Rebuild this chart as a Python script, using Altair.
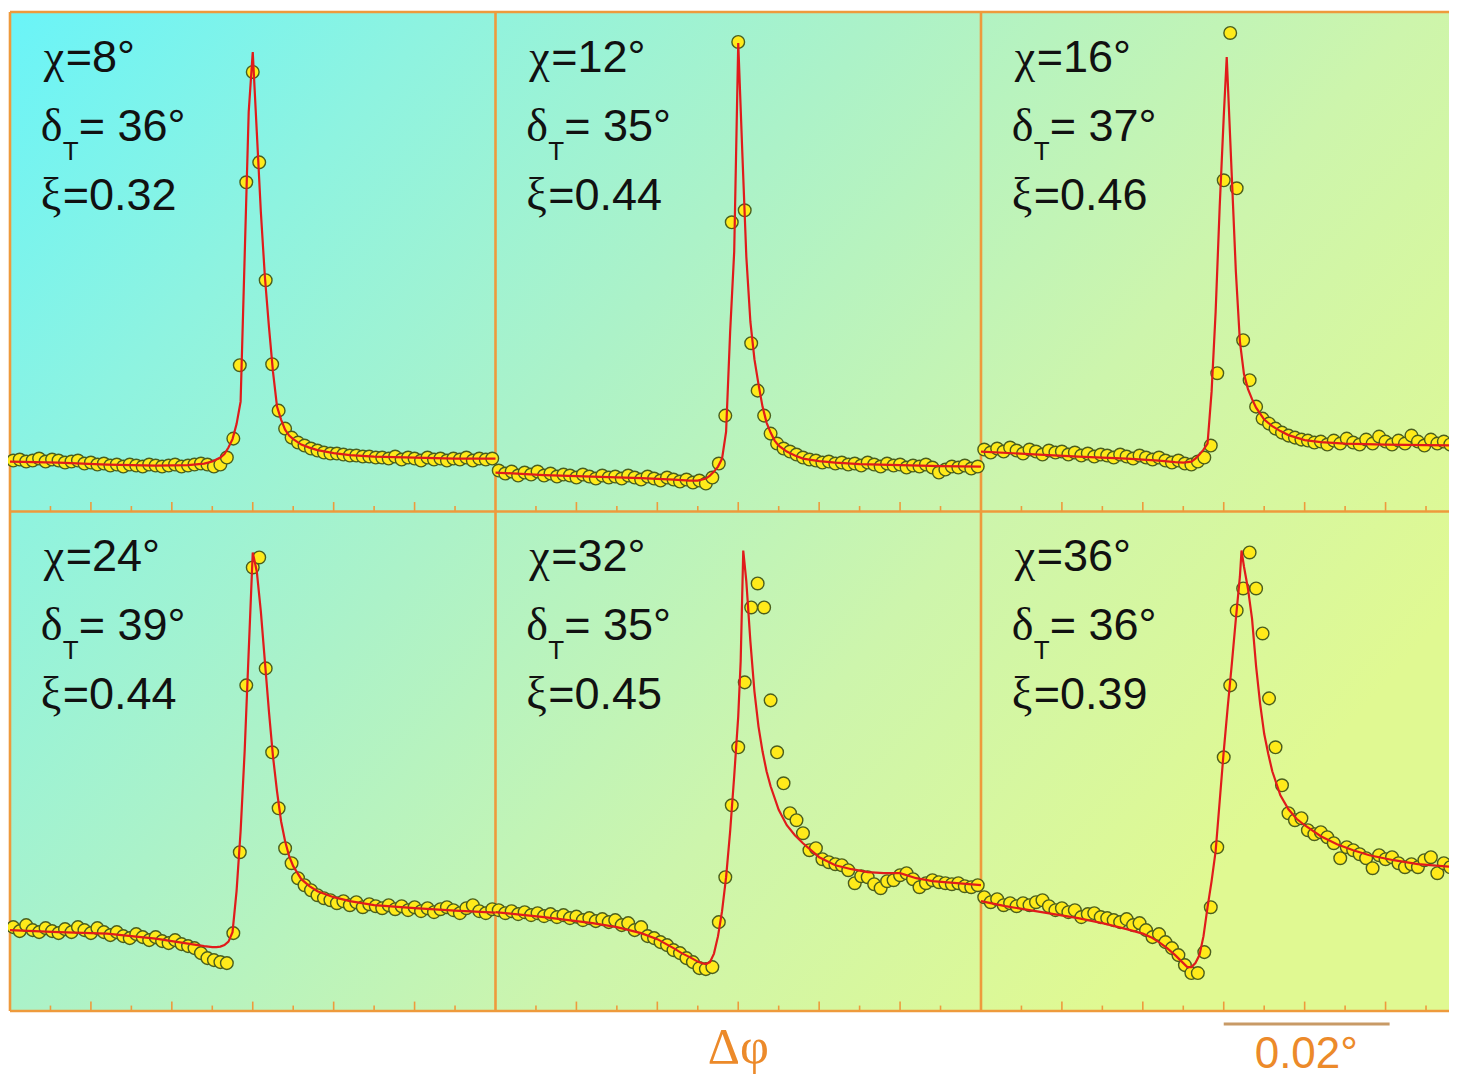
import altair as alt
import pandas as pd

# ---------------- data ----------------
# scan grid, delta-phi in millidegrees (0.001 deg), same for every panel
dphi = [-29.6, -28.8, -28.0, -27.2, -26.4, -25.6, -24.8, -24.0, -23.2, -22.4,
        -21.6, -20.8, -20.0, -19.2, -18.4, -17.6, -16.8, -16.0, -15.2, -14.4,
        -13.6, -12.8, -12.0, -11.2, -10.4, -9.6, -8.8, -8.0, -7.2, -6.4,
        -5.6, -4.8, -4.0, -3.2, -2.4, -1.6, -0.8, 0.0, 0.8, 1.6,
        2.4, 3.2, 4.0, 4.8, 5.6, 6.4, 7.2, 8.0, 8.8, 9.6,
        10.4, 11.2, 12.0, 12.8, 13.6, 14.4, 15.2, 16.0, 16.8, 17.6,
        18.4, 19.2, 20.0, 20.8, 21.6, 22.4, 23.2, 24.0, 24.8, 25.6,
        26.4, 27.2, 28.0, 28.8, 29.6]

chi_values = ["8°", "12°", "16°", "24°", "32°", "36°"]
delta_T = ["36°", "35°", "37°", "39°", "35°", "36°"]
xi_values = ["0.32", "0.44", "0.46", "0.44", "0.45", "0.39"]
panel_row = [0, 0, 0, 1, 1, 1]
panel_col = [0, 1, 2, 0, 1, 2]

# measured intensity (relative, % of panel height)
I_chi8 = [10.2, 10.4, 10.0, 10.2, 10.6, 10.0, 10.4, 10.2, 9.8, 10.0,
          10.2, 9.6, 9.8, 9.4, 9.6, 9.2, 9.4, 9.0, 9.4, 9.2,
          9.0, 9.4, 9.2, 9.0, 9.2, 9.4, 9.0, 9.2, 9.4, 9.6,
          9.4, 9.0, 9.4, 10.8, 14.6, 29.3, 65.9, 88.0, 69.9, 46.3,
          29.5, 20.2, 16.6, 14.8, 13.8, 13.2, 12.6, 12.2, 11.8, 11.6,
          11.6, 11.4, 11.2, 11.2, 11.0, 11.0, 10.8, 10.8, 10.6, 11.0,
          10.4, 10.8, 10.6, 10.2, 10.8, 10.4, 10.6, 10.2, 10.6, 10.4,
          10.8, 10.2, 10.6, 10.4, 10.6]
I_chi12 = [8.2, 7.6, 8.0, 7.2, 7.8, 7.4, 8.0, 7.2, 7.6, 7.0,
           7.4, 7.2, 6.8, 7.4, 7.0, 6.6, 7.2, 6.8, 7.0, 6.6,
           7.2, 6.8, 6.4, 7.0, 6.6, 6.2, 6.8, 6.4, 6.0, 6.4,
           5.8, 6.2, 5.6, 6.8, 9.6, 19.2, 57.9, 94.0, 60.3, 33.7,
           24.2, 19.2, 15.6, 13.6, 12.6, 12.0, 11.4, 10.8, 10.4, 10.2,
           9.8, 10.0, 9.6, 9.8, 9.4, 9.6, 9.2, 9.8, 9.4, 9.0,
           9.6, 9.2, 9.4, 8.8, 9.2, 9.0, 9.4, 8.8, 7.8, 8.4,
           9.0, 8.8, 9.2, 8.6, 9.0]
I_chi16 = [12.4, 11.8, 12.6, 12.0, 12.8, 12.2, 11.6, 12.4, 12.0, 11.4,
           12.2, 11.8, 12.0, 11.4, 11.8, 11.2, 11.6, 11.0, 11.4, 11.2,
           10.8, 11.4, 11.0, 10.6, 11.2, 10.8, 10.4, 10.8, 10.2, 9.8,
           10.2, 9.6, 9.4, 10.0, 10.8, 13.2, 27.7, 66.3, 95.8, 64.7,
           34.3, 26.3, 21.0, 18.6, 17.6, 16.6, 15.8, 15.2, 14.8, 14.4,
           14.2, 13.8, 14.0, 13.4, 14.2, 13.6, 14.6, 13.8, 13.4, 14.4,
           13.6, 15.0, 14.0, 13.4, 14.2, 13.6, 15.2, 14.0, 13.2, 14.4,
           13.6, 14.0, 13.4, 13.8, 13.2]
I_chi24 = [16.8, 16.0, 17.2, 16.2, 15.8, 16.6, 16.0, 15.6, 16.4, 15.8,
           16.8, 16.2, 15.6, 16.6, 15.8, 15.2, 15.8, 15.0, 14.6, 15.4,
           14.8, 14.2, 14.8, 14.0, 13.6, 14.2, 13.4, 13.0, 12.6, 11.6,
           10.6, 10.2, 9.8, 9.6, 15.6, 31.8, 65.2, 88.8, 90.8, 68.6,
           51.8, 40.6, 32.6, 29.6, 26.6, 25.2, 24.2, 23.2, 22.6, 22.2,
           21.6, 22.0, 21.2, 21.8, 20.8, 21.4, 21.0, 20.6, 21.2, 20.4,
           21.0, 20.2, 20.8, 20.0, 20.6, 19.8, 20.4, 20.8, 20.2, 19.6,
           20.6, 21.2, 20.0, 19.6, 20.4]
I_chi32 = [20.2, 19.6, 20.0, 19.4, 19.8, 19.2, 19.6, 19.0, 19.4, 18.8,
           19.2, 18.6, 18.9, 18.2, 18.6, 18.0, 18.4, 17.8, 18.2, 17.2,
           17.6, 16.2, 16.8, 15.0, 14.6, 13.8, 13.2, 12.2, 11.6, 10.6,
           9.8, 8.6, 8.4, 8.8, 17.8, 26.8, 41.2, 52.8, 65.8, 80.8,
           85.6, 80.8, 62.2, 51.8, 45.6, 39.6, 38.2, 35.6, 32.2, 32.6,
           30.4, 29.8, 29.4, 29.2, 28.2, 25.6, 27.0, 26.8, 25.4, 24.6,
           26.0, 26.2, 27.2, 27.6, 26.4, 24.8, 25.6, 26.2, 25.8, 25.6,
           25.4, 25.6, 25.0, 24.8, 25.2]
I_chi36 = [22.8, 21.8, 22.4, 21.2, 21.6, 21.0, 21.6, 21.2, 21.8, 22.2,
           21.0, 20.2, 20.6, 19.8, 20.2, 18.8, 19.4, 19.6, 18.8, 18.6,
           18.2, 17.8, 18.4, 17.2, 17.6, 16.2, 14.8, 15.4, 13.8, 12.6,
           11.2, 9.2, 7.6, 7.6, 11.8, 20.8, 32.8, 50.8, 65.2, 80.2,
           84.6, 91.8, 84.6, 75.6, 62.6, 52.8, 45.2, 39.6, 38.2, 38.6,
           36.2, 35.4, 35.8, 34.8, 33.6, 30.6, 32.8, 32.2, 31.4, 30.6,
           28.6, 31.2, 30.4, 30.8, 29.6, 28.8, 29.4, 28.8, 30.2, 30.8,
           27.6, 29.6, 28.8, 29.2, 28.6]
intensities = [I_chi8, I_chi12, I_chi16, I_chi24, I_chi32, I_chi36]

# fitted curves (red lines), delta-phi in mdeg and intensity in %
fit_chi8_x = [-30, -24, -18, -12, -8, -6, -5, -4, -3.5, -3, -2.5, -2, -1.5, -1, -0.5, 0,
              0.5, 1, 1.5, 2, 2.5, 3, 3.5, 4, 4.5, 5, 6, 7, 8, 10, 12, 15, 20, 25, 30]
fit_chi8_y = [10.0, 9.8, 9.4, 9.2, 9.3, 9.6, 10.0, 10.8, 11.5, 12.8, 14.5, 17.5, 22, 51, 80, 92,
              76, 60, 47, 37, 28, 21, 18.4, 16.4, 15.2, 14.5, 13.4, 12.8, 12.3, 11.7, 11.3,
              11.0, 10.8, 10.6, 10.6]
fit_chi12_x = [-30, -24, -18, -12, -8, -6, -5, -4, -3.5, -3, -2.5, -2, -1.5, -1, -0.5, 0,
               0.5, 1, 1.5, 2, 2.5, 3, 3.5, 4, 4.5, 5, 6, 7, 8, 10, 12, 15, 20, 25, 30]
fit_chi12_y = [7.8, 7.3, 7.0, 6.7, 6.4, 6.2, 6.2, 6.6, 7.2, 8.0, 9.0, 10.6, 16, 36, 52, 93.8,
               72, 51, 38, 30.5, 25.5, 21, 17.8, 15.8, 14.2, 13.2, 12.0, 11.2, 10.6, 10.1,
               9.8, 9.5, 9.3, 9.1, 9.0]
fit_chi16_x = [-30, -24, -18, -12, -8, -6, -5, -4, -3.5, -3, -2.5, -2, -1.5, -1, -0.5, 0,
               0.37, 1, 1.5, 2, 2.5, 3, 3.5, 4, 4.5, 5, 6, 7, 8, 10, 12, 15, 20, 25, 30]
fit_chi16_y = [12.0, 11.5, 11.0, 10.6, 10.2, 9.9, 9.8, 10.0, 10.6, 11.4, 12.4, 13.6, 24, 40,
               61, 79, 91, 67, 48, 34, 27.5, 24.5, 22.5, 20.8, 19.6, 18.4, 17.1, 16.1, 15.3,
               14.3, 13.9, 13.6, 13.4, 13.3, 13.2]
fit_chi24_x = [-30, -24, -18, -12, -8, -6, -5, -4.5, -4, -3.5, -3, -2.5, -2, -1.5, -1, -0.5,
               0, 0.5, 1, 1.5, 2, 2.5, 3, 3.5, 4, 4.5, 5, 6, 7, 8, 10, 12, 15, 20, 25, 30]
fit_chi24_y = [16.2, 15.8, 15.5, 14.5, 13.5, 13.0, 12.8, 12.8, 12.9, 13.2, 13.9, 15.8, 24, 36,
               52, 72, 91.8, 88, 80, 70, 60, 51, 44, 38, 34, 31, 29, 26.4, 25, 24, 22.8,
               22.0, 21.2, 20.6, 20.1, 19.7]
fit_chi32_x = [-30, -24, -18, -15, -12, -10, -8, -7, -6, -5, -4.5, -4, -3.5, -3, -2.5, -2,
               -1.5, -1, -0.5, 0, 0.3, 0.62, 1, 1.5, 2, 2.5, 3, 3.5, 4, 5, 6, 7, 8, 10, 12,
               14, 16, 18, 20, 22, 24, 27, 30]
fit_chi32_y = [19.8, 18.8, 17.6, 16.8, 15.6, 14.4, 12.6, 11.6, 10.8, 9.9, 9.6, 9.4, 9.8,
               11.5, 15, 20, 26.8, 36, 47, 59, 70, 92.2, 86, 74, 64, 57, 52, 48, 45, 40.3,
               37.2, 35.2, 33.6, 30.8, 29.2, 28.4, 27.8, 27.6, 27.6, 26.6, 26.0, 25.6, 25.2]
fit_chi36_x = [-30, -27, -24, -21, -18, -15, -12, -10, -9, -8, -7, -6, -5.5, -5, -4.5, -4,
               -3.5, -3, -2.5, -2, -1.5, -1, -0.5, 0, 0.5, 1, 1.5, 2, 2.2, 2.5, 3, 3.5, 4,
               4.5, 5, 5.5, 6, 7, 8, 9, 10, 12, 14, 16, 18, 21, 24, 27, 30]
fit_chi36_y = [22.0, 21.0, 20.2, 19.4, 18.6, 17.6, 16.4, 15.5, 14.8, 13.8, 12.6, 11.2, 10.4,
               9.6, 8.8, 8.8, 9.6, 11.2, 15.0, 20.8, 26, 32, 42, 52, 61, 69.5, 78.5, 87,
               92.2, 89, 84.5, 78.5, 69, 61.5, 55.5, 51.5, 48, 43.2, 40.4, 38.5, 37.2, 35,
               33.4, 32.2, 31.2, 30.2, 29.4, 29.0, 28.7]
fits = [(fit_chi8_x, fit_chi8_y), (fit_chi12_x, fit_chi12_y), (fit_chi16_x, fit_chi16_y),
        (fit_chi24_x, fit_chi24_y), (fit_chi32_x, fit_chi32_y), (fit_chi36_x, fit_chi36_y)]

# tick marks of the delta-phi axis (mdeg, relative to each panel centre)
tick_major = [-20, -10, 0, 10, 20]
tick_minor = [-25, -15, -5, 5, 15, 25]

# ---------------- tables ----------------
PANEL_W = 60.0  # mdeg per panel
XMAX = 147.84   # right end of the visible area (third column is cut off)
pts, fit_rows, labels = [], [], []
for k in range(6):
    r, c = panel_row[k], panel_col[k]
    for x, v in zip(dphi, intensities[k]):
        pts.append({"panel": k, "x": x + PANEL_W * c, "y": v / 100.0 + (1 - r)})
    fx, fy = fits[k]
    for j, (x, v) in enumerate(zip(fx, fy)):
        fit_rows.append({"panel": k, "o": j, "x": x + PANEL_W * c, "y": v / 100.0 + (1 - r)})
    top = 2 - r
    left = -30 + PANEL_W * c + 3.8
    labels.append({"x": left, "y1": top - 0.12, "y2": top - 0.258, "y3": top - 0.396,
                   "chi": "χ", "chi_rest": "=" + chi_values[k],
                   "delta": "δ", "sub": "T", "dval": "= " + delta_T[k],
                   "xi": "ξ", "xi_rest": "=" + xi_values[k]})
pts_df = pd.DataFrame(pts)
fit_df = pd.DataFrame(fit_rows)
lab_df = pd.DataFrame(labels)

ticks = []
for r in range(2):
    base = 1 - r
    for c in range(3):
        for t in tick_major:
            ticks.append({"x": t + PANEL_W * c, "y0": base, "y1": base + 0.019})
        for t in tick_minor:
            ticks.append({"x": t + PANEL_W * c, "y0": base, "y1": base + 0.011})
ticks_df = pd.DataFrame(ticks)

vlines_df = pd.DataFrame({"x": [-30, 30, 90], "y0": [0, 0, 0], "y1": [2, 2, 2]})
hlines_df = pd.DataFrame({"y": [0, 1, 2], "x0": [-30, -30, -30], "x1": [XMAX, XMAX, XMAX]})
bg_df = pd.DataFrame({"x0": [-30], "x1": [XMAX], "y0": [0], "y1": [2]})
bar_df = pd.DataFrame({"x0": [120], "x1": [140.5], "y": [-0.026]})
bottom_df = pd.DataFrame({"x": [60, 130.2], "y": [-0.104, -0.114], "t": ["Δφ", "0.02°"]})

# ---------------- chart ----------------
XS = alt.Scale(domain=[-30, XMAX], nice=False, zero=False)
YS = alt.Scale(domain=[-0.13, 2.0], nice=False, zero=False)
ORANGE = "#EE9A3C"


def xq(f):
    return alt.X(f, scale=XS, axis=None)


def yq(f):
    return alt.Y(f, scale=YS, axis=None)


bg = alt.Chart(bg_df).mark_rect(
    fill=alt.Gradient(
        gradient="linear",
        stops=[alt.GradientStop(color="#6AF4F8", offset=0),
               alt.GradientStop(color="#8EF3E0", offset=0.22),
               alt.GradientStop(color="#ACF2C8", offset=0.45),
               alt.GradientStop(color="#CDF5AC", offset=0.72),
               alt.GradientStop(color="#E0F992", offset=1)],
        x1=0, y1=0, x2=1, y2=0.6),
    stroke=None,
).encode(x=xq("x0:Q"), x2="x1:Q", y=yq("y0:Q"), y2="y1:Q")

vlines = alt.Chart(vlines_df).mark_rule(color=ORANGE, strokeWidth=2.6).encode(
    x=xq("x:Q"), y=yq("y0:Q"), y2="y1:Q")
hlines = alt.Chart(hlines_df).mark_rule(color=ORANGE, strokeWidth=2.6).encode(
    x=xq("x0:Q"), x2="x1:Q", y=yq("y:Q"))
tick_layer = alt.Chart(ticks_df).mark_rule(color=ORANGE, strokeWidth=1.6).encode(
    x=xq("x:Q"), y=yq("y0:Q"), y2="y1:Q")

points = alt.Chart(pts_df).mark_point(
    shape="circle", filled=True, fill="#FFEA1A", stroke="#4A5E1E", strokeWidth=1.4,
    size=160, opacity=1,
).encode(x=xq("x:Q"), y=yq("y:Q"), detail="panel:N")

lines = alt.Chart(fit_df).mark_line(color="#E01B1B", strokeWidth=2.2).encode(
    x=xq("x:Q"), y=yq("y:Q"), detail="panel:N", order="o:Q")

SANS = "Liberation Sans"
SERIF = "Liberation Serif"
INK = "#111111"
base_txt = alt.Chart(lab_df)


def label(field, yfield, font, size, dx=0, dy=0):
    return base_txt.mark_text(align="left", baseline="alphabetic", font=font,
                              fontSize=size, color=INK, dx=dx, dy=dy).encode(
        x=xq("x:Q"), y=yq(yfield), text=f"{field}:N")


t_chi = label("chi", "y1:Q", SERIF, 46, dx=3)
t_chi_rest = label("chi_rest", "y1:Q", SANS, 45, dx=25)
t_delta = label("delta", "y2:Q", SERIF, 46)
t_sub = label("sub", "y2:Q", SANS, 26, dx=22, dy=19)
t_dval = label("dval", "y2:Q", SANS, 45, dx=38)
t_xi = label("xi", "y3:Q", SERIF, 46)
t_xi_rest = label("xi_rest", "y3:Q", SANS, 45, dx=22)

bar = alt.Chart(bar_df).mark_rule(color="#C89A66", strokeWidth=3).encode(
    x=xq("x0:Q"), x2="x1:Q", y=yq("y:Q"))
bottom_dphi = alt.Chart(bottom_df.iloc[[0]]).mark_text(
    align="center", baseline="alphabetic", font=SERIF, fontSize=50,
    color="#EC8A2A").encode(x=xq("x:Q"), y=yq("y:Q"), text="t:N")
bottom_bar = alt.Chart(bottom_df.iloc[[1]]).mark_text(
    align="center", baseline="alphabetic", font=SANS, fontSize=44,
    color="#EC8A2A").encode(x=xq("x:Q"), y=yq("y:Q"), text="t:N")

chart = alt.layer(
    bg, vlines, hlines, tick_layer, points, lines,
    t_chi, t_chi_rest, t_delta, t_sub, t_dval, t_xi, t_xi_rest,
    bar, bottom_dphi, bottom_bar,
).properties(
    width=1439, height=1064,
    padding={"left": 2, "top": 4, "right": 0, "bottom": 0},
    autosize=alt.AutoSizeParams(type="none"),
    background="white",
).configure_view(stroke=None)

chart.save("out.html", embed_options={"renderer": "svg", "actions": False})
